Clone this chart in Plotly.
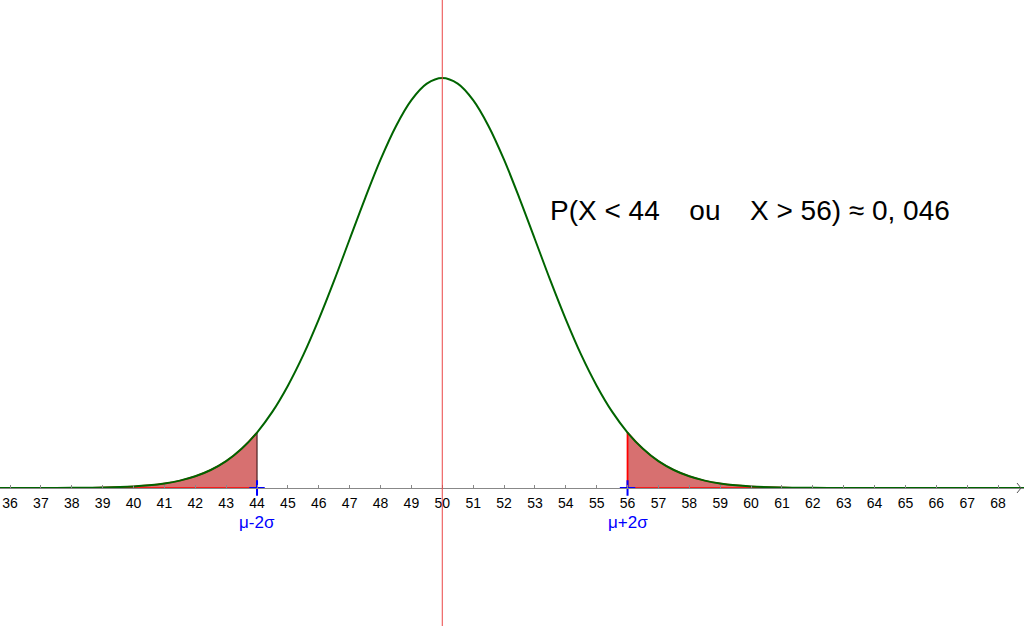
import plotly.graph_objects as go

# Data (normal density, mu = 50, sigma = 3)
x_vals = [35, 36, 37, 38, 39, 40, 40.5, 41, 41.5, 42, 42.5, 43, 43.5, 44, 44.5, 45, 45.5, 46, 46.5,
          47, 47.5, 48, 48.5, 49, 49.5, 50, 50.5, 51, 51.5, 52, 52.5, 53, 53.5, 54, 54.5, 55, 55.5,
          56, 56.5, 57, 57.5, 58, 58.5, 59, 59.5, 60, 61, 62, 63, 64, 65, 66, 67, 68, 69]
density = [0.0, 0.000002, 0.000011, 0.000045, 0.00016, 0.00051, 0.00088, 0.00148, 0.00240,
           0.0038, 0.00584, 0.0087, 0.01272, 0.0180, 0.02477, 0.0332, 0.04317, 0.0547, 0.06733,
           0.0807, 0.09397, 0.1065, 0.11736, 0.1258, 0.13115, 0.1330, 0.13115, 0.1258, 0.11736,
           0.1065, 0.09397, 0.0807, 0.06733, 0.0547, 0.04317, 0.0332, 0.02477,
           0.0180, 0.01272, 0.0087, 0.00584, 0.0038, 0.00240, 0.00148, 0.00088, 0.00051,
           0.00016, 0.000045, 0.000011, 0.000002, 0.0, 0.0, 0.0, 0.0, 0.0]
lower_bound = 44
upper_bound = 56
mu = 50
tick_vals = list(range(36, 69))
label_text = "P(X < 44 \u2002 ou \u2002 X > 56) \u2248 0, 046"
mark_labels = ["\u03bc-2\u03c3", "\u03bc+2\u03c3"]

x_min, x_max = 35.676, 68.84
y_min, y_max = -0.04476, 0.1583
axis_pos = (0 - y_min) / (y_max - y_min)

left_x = [x for x in x_vals if x <= lower_bound]
left_y = [density[x_vals.index(x)] for x in left_x]
right_x = [x for x in x_vals if x >= upper_bound]
right_y = [density[x_vals.index(x)] for x in right_x]

fill_col = "#d77070"
fig = go.Figure()
fig.add_trace(go.Scatter(x=left_x, y=left_y, mode="lines", line=dict(color="red", width=1.5, shape="spline"),
                         fill="tozeroy", fillcolor=fill_col, hoverinfo="skip"))
fig.add_trace(go.Scatter(x=right_x, y=right_y, mode="lines", line=dict(color="red", width=1.5, shape="spline"),
                         fill="tozeroy", fillcolor=fill_col, hoverinfo="skip"))
fig.add_trace(go.Scatter(x=[left_x[0], lower_bound], y=[0, 0], mode="lines",
                         line=dict(color="red", width=1.5), hoverinfo="skip"))
fig.add_trace(go.Scatter(x=[upper_bound, right_x[-1]], y=[0, 0], mode="lines",
                         line=dict(color="red", width=1.5), hoverinfo="skip"))
fig.add_trace(go.Scatter(x=[lower_bound, lower_bound], y=[0, density[x_vals.index(lower_bound)]], mode="lines",
                         line=dict(color="#4a2020", width=1.2), hoverinfo="skip"))
fig.add_trace(go.Scatter(x=[upper_bound, upper_bound], y=[0, density[x_vals.index(upper_bound)]], mode="lines",
                         line=dict(color="#ff0000", width=1.8), hoverinfo="skip"))
fig.add_trace(go.Scatter(x=x_vals, y=density, mode="lines", line=dict(color="#006400", width=2, shape="spline"),
                         hoverinfo="skip"))
fig.add_trace(go.Scatter(x=[lower_bound, upper_bound], y=[0, 0], mode="markers",
                         marker=dict(symbol="cross-thin", size=11, line=dict(color="blue", width=2), color="blue"),
                         hoverinfo="skip"))
for xv, lab in zip([lower_bound, upper_bound], mark_labels):
    fig.add_annotation(x=xv, y=0, xref="x", yref="y", text=lab, showarrow=False, yshift=-34,
                       font=dict(color="blue", size=17, family="Liberation Sans"))

# vertical line at mu
fig.add_shape(type="line", x0=mu, x1=mu, y0=0, y1=1, xref="x", yref="paper",
              line=dict(color="rgb(235,70,70)", width=1))
# open arrowhead at the end of the x axis
for dy in (5, -5):
    fig.add_shape(type="line", xref="x", yref="y", xsizemode="pixel", ysizemode="pixel",
                  xanchor=x_max, yanchor=0, x0=-7, x1=-3, y0=dy, y1=0,
                  line=dict(color="#555555", width=1))
fig.add_annotation(x=0.732, y=0.6645, xref="paper", yref="paper", xanchor="center", yanchor="middle",
                   text=label_text, showarrow=False,
                   font=dict(size=28, color="black", family="Liberation Sans"))

fig.update_layout(
    width=1024, height=626, margin=dict(l=0, r=0, t=0, b=0),
    plot_bgcolor="white", paper_bgcolor="white", showlegend=False,
    xaxis=dict(range=[x_min, x_max], tickvals=tick_vals, ticks="inside", ticklen=3, tickcolor="#888888",
               showgrid=False, zeroline=False, showline=True, linecolor="#888888", linewidth=1,
               anchor="free", position=axis_pos, ticklabelstandoff=2,
               tickfont=dict(size=14, color="black", family="Liberation Sans")),
    yaxis=dict(range=[y_min, y_max], visible=False, showgrid=False, zeroline=False),
)
fig.write_html("out.html", config={"displayModeBar": False},
               post_script="document.body.style.margin='0';document.body.style.overflow='hidden';")
